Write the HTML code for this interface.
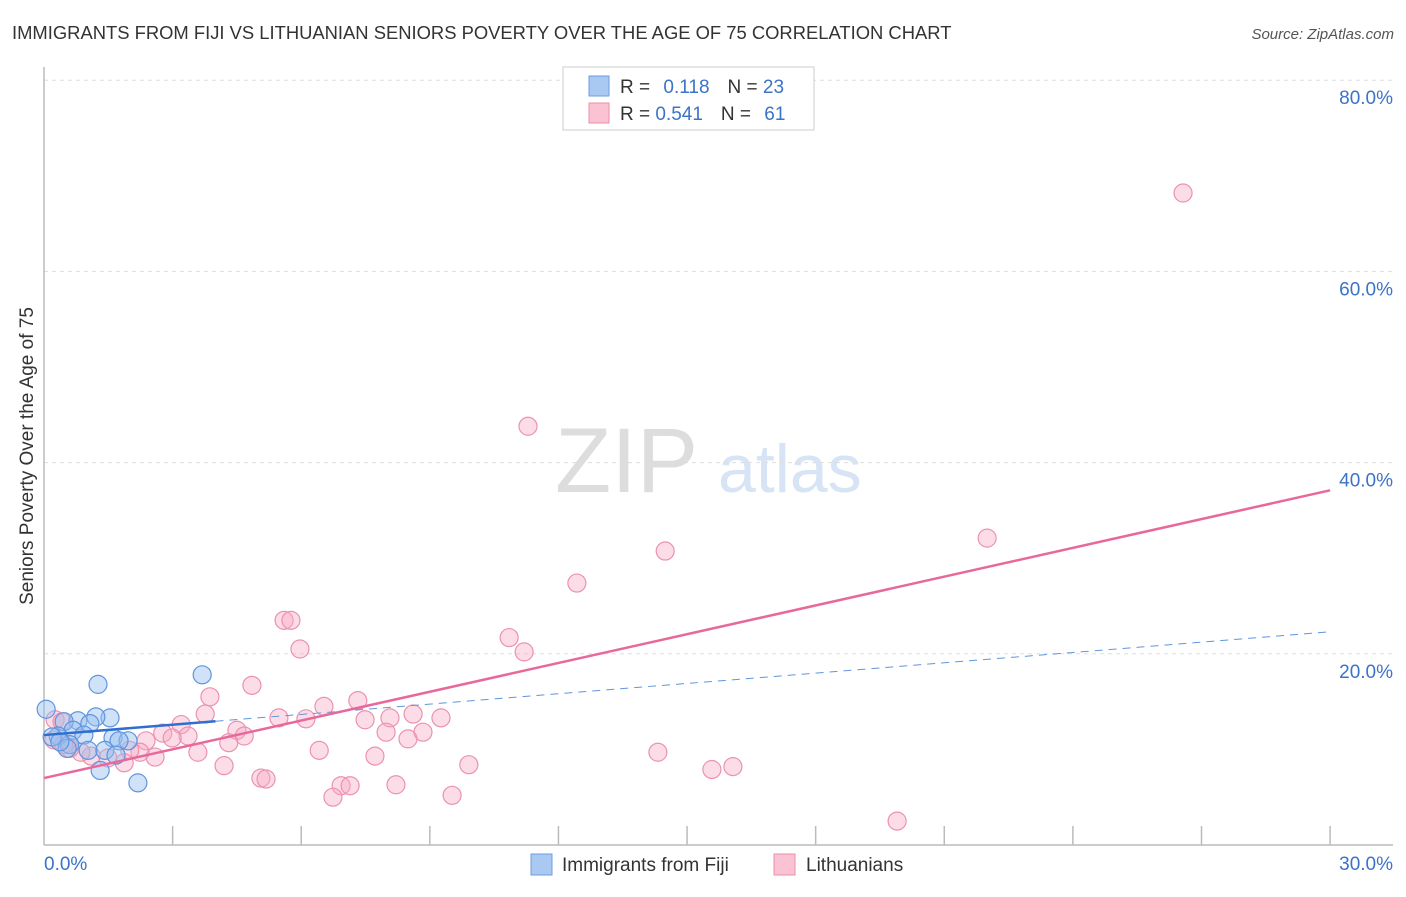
<!DOCTYPE html>
<html><head><meta charset="utf-8"><style>
body{margin:0;background:#fff;font-family:"Liberation Sans",sans-serif}
svg text{font-family:"Liberation Sans",sans-serif}
</style></head><body>
<svg id="c" width="1406" height="892">
<text x="12" y="39" font-size="18.4" fill="#333">IMMIGRANTS FROM FIJI VS LITHUANIAN SENIORS POVERTY OVER THE AGE OF 75 CORRELATION CHART</text>
<text x="1394" y="39" font-size="15" fill="#555" text-anchor="end" font-style="italic">Source: ZipAtlas.com</text>
<text x="555" y="492" font-size="92" fill="#ddd" font-family="Liberation Serif">ZIP</text>
<text x="718" y="492" font-size="68" fill="#d6e4f5">atlas</text>
<text transform="translate(33,456) rotate(-90)" font-size="19" fill="#333" text-anchor="middle">Seniors Poverty Over the Age of 75</text>
<g id="grid"></g><g id="marks"></g><g id="lines"></g>
<g>
<rect x="563" y="67" width="251" height="63" fill="#fff" stroke="#ccc"/>
<rect x="589" y="76" width="20" height="20" fill="#a9c9f2" stroke="#6b9ee0"/>
<rect x="589" y="103" width="20" height="20" fill="#f9c3d3" stroke="#ec8cab"/>
<text x="620" y="93" font-size="19" fill="#333">R = <tspan fill="#3b73c8" dx="8">0.118</tspan><tspan dx="18" fill="#333">N = </tspan><tspan fill="#3b73c8">23</tspan></text>
<text x="620" y="120" font-size="19" fill="#333">R = <tspan fill="#3b73c8">0.541</tspan><tspan dx="18" fill="#333">N = </tspan><tspan fill="#3b73c8" dx="8">61</tspan></text>
</g>
<g>
<rect x="531" y="854" width="21" height="21" fill="#a9c9f2" stroke="#6b9ee0"/>
<text x="562" y="871" font-size="19" fill="#333">Immigrants from Fiji</text>
<rect x="774" y="854" width="21" height="21" fill="#f9c3d3" stroke="#ec8cab"/>
<text x="806" y="871" font-size="19" fill="#333">Lithuanians</text>
</g>
</svg>
<script>
const xTickLabels=["0.0%","30.0%"];
const yTicks=[20,40,60,80];
const fijiX=[0.05,1.26,3.69,1.54,1.21,0.79,0.47,1.07,0.68,0.93,0.33,0.19,1.61,1.96,1.75,0.6,1.03,1.42,0.54,1.31,2.19,1.68,0.37];
const fijiY=[14.2,16.8,17.8,13.3,13.4,13.0,12.9,12.7,12.0,11.5,11.4,11.3,11.2,10.9,10.9,10.5,9.9,9.9,10.1,7.8,6.5,9.4,10.8];
const lithX=[26.57,11.29,14.49,22.0,12.43,5.6,5.76,10.85,11.2,5.97,3.87,4.85,6.53,7.32,5.48,6.11,3.76,3.2,2.77,3.36,2.99,2.38,4.5,4.67,4.31,3.59,2.24,2.59,2.0,1.87,1.49,1.1,0.86,4.2,6.42,7.49,8.07,7.98,8.61,9.26,8.84,8.49,7.72,5.06,5.18,6.93,7.14,6.74,8.21,9.52,9.91,14.32,15.58,16.07,19.9,0.26,0.42,0.23,0.46,0.6];
const lithY=[68.2,43.8,30.75,32.1,27.4,23.5,23.5,21.7,20.2,20.5,15.5,16.7,14.5,15.1,13.3,13.2,13.7,12.6,11.7,11.4,11.2,10.9,12.0,11.4,10.7,9.7,9.7,9.2,9.9,8.6,9.1,9.3,9.7,8.3,9.9,13.1,13.3,11.8,13.7,13.3,11.8,11.1,9.3,7.0,6.9,6.2,6.2,5.0,6.3,5.2,8.4,9.7,7.9,8.2,2.5,13.1,12.9,11.0,10.5,10.1];
const fijiLine=[11.5,22.3];
const fijiSolidEnd=4.0;
const lithLine=[7.0,37.1];
const NS='http://www.w3.org/2000/svg';
const X=v=>44+v*42.87, Y=v=>845-v*9.56;
function mk(t,a,p){const e=document.createElementNS(NS,t);for(const k in a)e.setAttribute(k,a[k]);document.getElementById(p).appendChild(e);return e;}
yTicks.forEach(t=>{
 let l=mk('line',{x1:44,x2:1393,y1:Y(t),y2:Y(t),stroke:'#ddd','stroke-dasharray':'4,4'},'grid');
 
 
 let tx=mk('text',{x:1393,y:Y(t)+24,'font-size':19,fill:'#3b73c8','text-anchor':'end'},'grid');tx.textContent=t+'.0%';
 
 
});
let ax=mk('line',{x1:44,x2:1393,y1:845,y2:845,stroke:'#bbb','stroke-width':1.5},'grid');


let ay=mk('line',{x1:44,x2:44,y1:67,y2:845,stroke:'#bbb','stroke-width':1.5},'grid');


for(let i=1;i<=10;i++){let t=mk('line',{x1:X(i*3),x2:X(i*3),y1:826,y2:845,stroke:'#bbb','stroke-width':1.5},'grid');
 
 }
let t0=mk('text',{x:44,y:870,'font-size':19,fill:'#3b73c8'},'grid');t0.textContent=xTickLabels[0];


let t1=mk('text',{x:1393,y:870,'font-size':19,fill:'#3b73c8','text-anchor':'end'},'grid');t1.textContent=xTickLabels[1];


lithX.forEach((x,i)=>{let c=mk('circle',{cx:X(x),cy:Y(lithY[i]),r:9,fill:'rgba(247,170,195,0.4)',stroke:'#eb92b0','stroke-width':1.2},'marks');
 
 });
fijiX.forEach((x,i)=>{let c=mk('circle',{cx:X(x),cy:Y(fijiY[i]),r:9,fill:'rgba(150,190,240,0.45)',stroke:'#5f95dd','stroke-width':1.2},'marks');
 
 });
const fy=x=>fijiLine[0]+(fijiLine[1]-fijiLine[0])*x/30;
let l1=mk('line',{x1:X(0),y1:Y(fy(0)),x2:X(fijiSolidEnd),y2:Y(fy(fijiSolidEnd)),stroke:'#2f6fd0','stroke-width':2.5},'lines');


let l2=mk('line',{x1:X(fijiSolidEnd),y1:Y(fy(fijiSolidEnd)),x2:X(30),y2:Y(fy(30)),stroke:'#5f95dd','stroke-width':1,'stroke-dasharray':'8,6'},'lines');


let l3=mk('line',{x1:X(0),y1:Y(lithLine[0]),x2:X(30),y2:Y(lithLine[1]),stroke:'#e8689a','stroke-width':2.5},'lines');


</script>
</body></html>
